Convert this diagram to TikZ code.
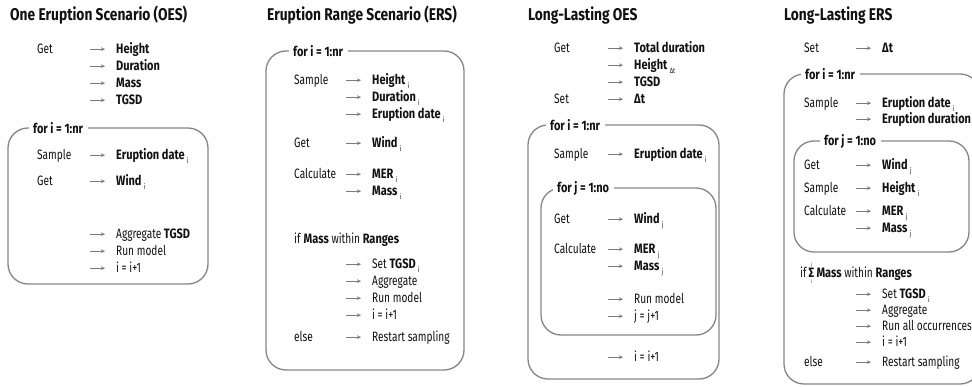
\documentclass[tikz,border=0pt]{standalone}
\usepackage{fontspec}
\setmainfont{Fira Sans}[FakeStretch=0.745,BoldFeatures={FakeStretch=0.81}]
\usepackage{tikz}
\usetikzlibrary{arrows.meta,positioning}
\definecolor{Ink}{HTML}{111111}
\definecolor{Muted}{HTML}{7A7A7A}
\definecolor{Frame}{HTML}{858585}
\newcommand{\subx}[1]{\,\raisebox{-0.6ex}{\fontsize{7.5}{8}\selectfont #1}}

\begin{document}
\begin{tikzpicture}[
  x=1pt,y=-1pt,
  title/.style={anchor=west,inner sep=0,font=\fontsize{17}{20}\selectfont\bfseries,text=Ink},
  cmd/.style={anchor=base west,inner sep=0,yshift=-4.7pt,font=\fontsize{13.6}{15}\selectfont,text=Ink},
  item/.style={cmd},
  loopbox/.style={draw=Frame,line width=1.3pt,rounded corners=20pt},
  looplabel/.style={anchor=west,fill=white,inner xsep=4.5pt,inner ysep=1.5pt,font=\fontsize{13.6}{15}\selectfont\bfseries,text=Ink},
  arr/.style={-{Stealth[length=4pt,width=3.6pt]},draw=Muted,line width=0.8pt}
]
\useasboundingbox (0,0) rectangle (972,387);

% One Eruption Scenario
\node[title] (oesT) at (10,15) {One Eruption Scenario (OES)};
\node[cmd] (oesGet) at (37,49) {Get};
\draw[loopbox] (8,128) rectangle (208,284);
\node[looplabel] (oesFor) at (28.5,128) {for i = 1:nr};
\node[cmd] (oesSample) at (37,155) {Sample};
\node[cmd] (oesGetB) at (37,181) {Get};
\foreach \yy/\txt [count=\k] in {49/\textbf{Height},66/\textbf{Duration},83/\textbf{Mass},100/\textbf{TGSD},
  155/\textbf{Eruption date}\subx{i},181/\textbf{Wind}\subx{i},
  234/Aggregate \textbf{TGSD},251/Run model,268/i = i+1}{
  \node[item] (oesA\k) at (116,\yy) {\txt};
  \draw[arr] ([shift={(-26,-4.5)}]oesA\k.base west) -- ([shift={(-11,-4.5)}]oesA\k.base west);
}

% Eruption Range Scenario
\node[title] (ersT) at (267,15) {Eruption Range Scenario (ERS)};
\draw[loopbox] (266,51) rectangle (464,370);
\node[looplabel] (ersFor) at (288.5,51) {for i = 1:nr};
\node[cmd] (ersSample) at (294,80) {Sample};
\node[cmd] (ersGet) at (294,143) {Get};
\node[cmd] (ersCalc) at (294,174) {Calculate};
\node[cmd] (ersIf) at (294,239) {if \textbf{Mass} within \textbf{Ranges}};
\node[cmd] (ersElse) at (294,337) {else};
\foreach \yy/\txt [count=\k] in {80/\textbf{Height}\subx{i},97/\textbf{Duration}\subx{i},114/\textbf{Eruption date}\subx{i},
  143/\textbf{Wind}\subx{i},174/\textbf{MER}\subx{i},191/\textbf{Mass}\subx{i},
  264/Set \textbf{TGSD}\subx{i},281/Aggregate,298/Run model,315/i = i+1,337/Restart sampling}{
  \node[item] (ersA\k) at (372,\yy) {\txt};
  \draw[arr] ([shift={(-26,-4.5)}]ersA\k.base west) -- ([shift={(-11,-4.5)}]ersA\k.base west);
}

% Long-Lasting OES
\node[title] (lloT) at (528,15) {Long-Lasting OES};
\node[cmd] (lloGet) at (554,48) {Get};
\node[cmd] (lloSet) at (554,99) {Set};
\draw[loopbox] (528,125) rectangle (719,379);
\node[looplabel] (lloFor) at (545.5,125) {for i = 1:nr};
\node[cmd] (lloSample) at (554,154) {Sample};
\draw[loopbox] (541,188) rectangle (716,335);
\node[looplabel] (lloForJ) at (552.5,188) {for j = 1:no};
\node[cmd] (lloGetB) at (554,219) {Get};
\node[cmd] (lloCalc) at (554,249) {Calculate};
\foreach \yy/\txt [count=\k] in {48/\textbf{Total duration},65/\textbf{Height}\subx{Δt},82/\textbf{TGSD},99/\textbf{Δt},
  154/\textbf{Eruption date}\subx{i},219/\textbf{Wind}\subx{j},249/\textbf{MER}\subx{j},266/\textbf{Mass}\subx{j},
  299/Run model,316/j = j+1,357/i = i+1}{
  \node[item] (lloA\k) at (634,\yy) {\txt};
  \draw[arr] ([shift={(-26,-4.5)}]lloA\k.base west) -- ([shift={(-11,-4.5)}]lloA\k.base west);
}

% Long-Lasting ERS
\node[title] (lleT) at (784,15) {Long-Lasting ERS};
\node[cmd] (lleSet) at (804,48) {Set};
\draw[loopbox] (784,74) rectangle (980,384);
\node[looplabel] (lleFor) at (800.5,74) {for i = 1:nr};
\node[cmd] (lleSample) at (804,103) {Sample};
\draw[loopbox] (794,141) rectangle (969,252);
\node[looplabel] (lleForJ) at (819.5,141) {for j = 1:no};
\node[cmd] (lleGet) at (804,165) {Get};
\node[cmd] (lleSampleB) at (804,188) {Sample};
\node[cmd] (lleCalc) at (804,211) {Calculate};
\node[cmd] (lleIf) at (800,273) {if\,$\mathop{\textbf{Σ}}\limits^{\mbox{\tiny j}}_{\mbox{\tiny i}}$\,\textbf{Mass} within \textbf{Ranges}};
\node[cmd] (lleElse) at (804,362) {else};
\foreach \yy/\txt [count=\k] in {48/\textbf{Δt},103/\textbf{Eruption date}\subx{i},119/\textbf{Eruption duration}\subx{i},
  165/\textbf{Wind}\subx{j},188/\textbf{Height}\subx{i},211/\textbf{MER}\subx{j},228/\textbf{Mass}\subx{j},
  294/Set \textbf{TGSD}\subx{i},310/Aggregate,326/Run all occurrences,342/i = i+1,362/Restart sampling}{
  \node[item] (lleA\k) at (882,\yy) {\txt};
  \draw[arr] ([shift={(-26,-4.5)}]lleA\k.base west) -- ([shift={(-11,-4.5)}]lleA\k.base west);
}
\end{tikzpicture}
\end{document}
